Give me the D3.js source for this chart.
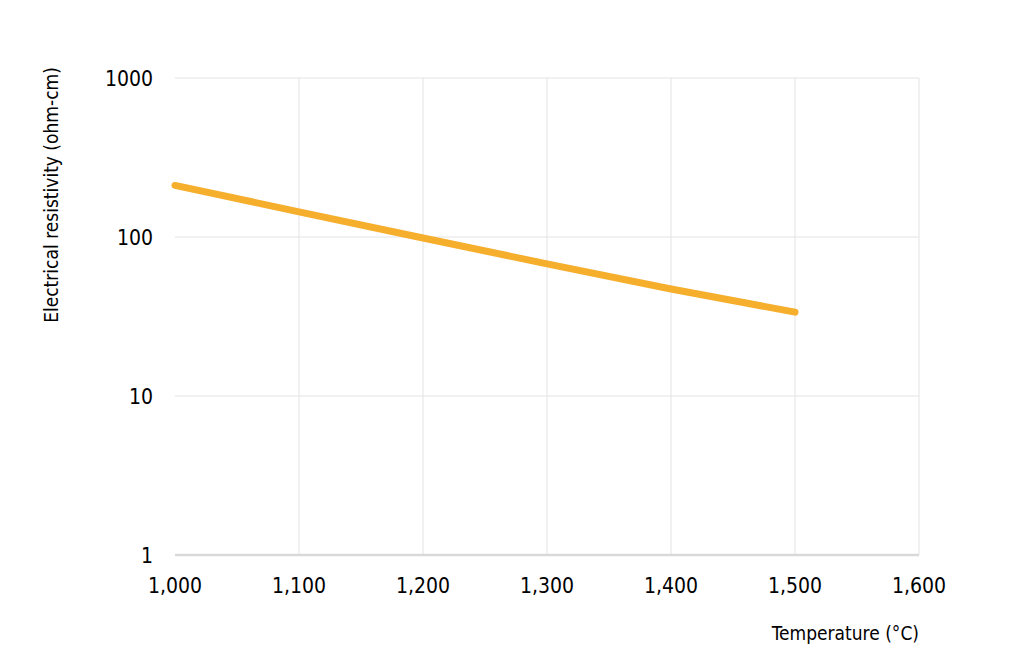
<!DOCTYPE html>
<html>
<head>
<meta charset="utf-8">
<script src="https://cdn.jsdelivr.net/npm/d3@7"></script>
<style>
  body { margin: 0; background: #fff; }
  text { font-family: "DejaVu Sans Condensed", "Liberation Sans", sans-serif; fill: #000; }
</style>
</head>
<body>
<div id="chart"></div>
<script>
const temperatures = [1000, 1100, 1200, 1300, 1400, 1500];
const resistivity = [211, 144, 98.6, 67.7, 47.1, 33.7];
const xTicks = [1000, 1100, 1200, 1300, 1400, 1500, 1600];
const yTicks = [1, 10, 100, 1000];

const width = 1024, height = 667;
const mLeft = 175, mRight = 919, mTop = 78, mBottom = 555;

const svg = d3.select("#chart").append("svg")
    .attr("width", width)
    .attr("height", height);

const x = d3.scaleLinear().domain([1000, 1600]).range([mLeft, mRight]);
const y = d3.scaleLog().domain([1, 1000]).range([mBottom, mTop]);

// vertical grid
svg.append("g")
    .selectAll("line")
    .data(xTicks.slice(1))
    .enter().append("line")
    .attr("x1", d => x(d)).attr("x2", d => x(d))
    .attr("y1", mTop).attr("y2", mBottom)
    .attr("stroke", "#e3e3e3")
    .attr("stroke-width", 1);

// horizontal grid
svg.append("g")
    .selectAll("line")
    .data(yTicks.slice(1))
    .enter().append("line")
    .attr("x1", mLeft).attr("x2", mRight)
    .attr("y1", d => y(d)).attr("y2", d => y(d))
    .attr("stroke", "#e3e3e3")
    .attr("stroke-width", 1);

// x axis baseline
svg.append("line")
    .attr("x1", mLeft).attr("x2", mRight)
    .attr("y1", y(1)).attr("y2", y(1))
    .attr("stroke", "#d9d9d9")
    .attr("stroke-width", 2.5);

const fmt = d3.format(",");

svg.append("g")
    .selectAll("text")
    .data(xTicks)
    .enter().append("text")
    .attr("x", d => x(d))
    .attr("y", 593)
    .attr("text-anchor", "middle")
    .attr("font-size", "21px")
    .text(d => fmt(d));

svg.append("g")
    .selectAll("text")
    .data(yTicks)
    .enter().append("text")
    .attr("x", 153)
    .attr("y", d => y(d) + 8)
    .attr("text-anchor", "end")
    .attr("font-size", "21px")
    .text(d => d);

const line = d3.line()
    .x((d, i) => x(temperatures[i]))
    .y(d => y(d));

svg.append("path")
    .datum(resistivity)
    .attr("d", line)
    .attr("fill", "none")
    .attr("stroke", "#f6ae2d")
    .attr("stroke-width", 7)
    .attr("stroke-linecap", "round")
    .attr("stroke-linejoin", "round");

svg.append("text")
    .attr("transform", "translate(58,195) rotate(-90)")
    .attr("text-anchor", "middle")
    .attr("font-size", "19px")
    .text("Electrical resistivity (ohm-cm)");

svg.append("text")
    .attr("x", mRight)
    .attr("y", 640)
    .attr("text-anchor", "end")
    .attr("font-size", "19px")
    .text("Temperature (°C)");
</script>
</body>
</html>
